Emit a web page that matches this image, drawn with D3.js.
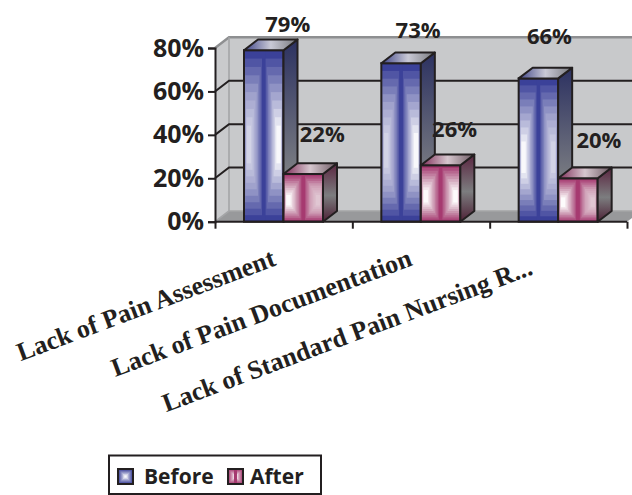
<!DOCTYPE html>
<html><head><meta charset="utf-8">
<script src="https://cdn.jsdelivr.net/npm/d3@7"></script>
<style>html,body{margin:0;padding:0;background:#fff}svg{display:block}</style>
</head><body><svg id="c" width="632" height="495"></svg>
<script>
const categories = ["Lack of Pain Assessment","Lack of Pain Documentation","Lack of Standard Pain Nursing R..."];
const seriesNames = ["Before","After"];
const before = [79,73,66];
const after = [22,26,20];
const yTicks = [0,20,40,60,80];

const ink="#231f20", sans="'Open Sans',sans-serif", serif="'Liberation Serif',serif";
const svg=d3.select("#c");
const defs=svg.append("defs");
const X0=215,X1=627,Y0=221.7,Y80=48, DX=14,DY=-10.7;
const y=d3.scaleLinear().domain([0,80]).range([Y0,Y80]);
const x=d3.scaleBand().domain(categories).range([X0,X1]).paddingInner(0).paddingOuter(0);
const inner=d3.scaleBand().domain(seriesNames).range([29,108]);
const edge=d3.scaleLinear().domain([0,categories.length]).range([X0,X1]);

// walls
const wallR=X1+DX;
svg.append("polygon").attr("points",[[X0,Y0],[X0+DX,Y0+DY],[wallR,Y0+DY],[X1,Y0]].join(" ")).attr("fill","#98999b");
svg.append("polygon").attr("points",[[X0,Y0],[X0+DX,Y0+DY],[X0+DX,Y80+DY],[X0,Y80]].join(" ")).attr("fill","#c9cacc");
svg.append("rect").attr("x",X0+DX).attr("y",Y80+DY).attr("width",wallR-X0-DX).attr("height",Y0-Y80).attr("fill","#c8c9cb");
svg.append("path").attr("d",`M${X0},${Y80}L${X0+DX},${Y80+DY}H${wallR}`).attr("fill","none").attr("stroke","#8e8f91").attr("stroke-width",2.4);
svg.append("path").attr("d",`M${X0+DX},${Y80+DY}V${Y0+DY}L${X0},${Y0}M${X0+DX},${Y0+DY}H${wallR}`).attr("fill","none").attr("stroke","#a4a5a7").attr("stroke-width",1.6);
// gridlines
svg.append("g").selectAll("path").data(yTicks.filter(d=>d>0&&d<80)).join("path")
  .attr("d",d=>`M${X0},${y(d)}L${X0+DX},${y(d)+DY}H${wallR}`)
  .attr("fill","none").attr("stroke",ink).attr("stroke-width",2);

// gradients
const pal={Before:{edge:"#3b4199",mid:"#9a9cc9",core:"#f8f8fb",soft:"#d2d3e6",
   side:["#2c3161","#7d7f83"],top:["#3f4488","#c9c9d6","#77787c"]},
  After:{edge:"#a63a70",mid:"#cf9fb6",core:"#fdfbfc",soft:"#e0c6d2",
   side:["#5a2540","#7c7d7f"],top:["#7f2c58","#d6c6ce","#6d5a63"]}};
seriesNames.forEach(s=>{
  const p=pal[s];
  const side=defs.append("linearGradient").attr("id","side"+s).attr("x1",0).attr("y1",0).attr("x2",0).attr("y2",1);
  side.append("stop").attr("offset",0).attr("stop-color",p.side[0]);
  side.append("stop").attr("offset",s==="After"?.55:.75).attr("stop-color",p.side[1]);
  side.append("stop").attr("offset",1).attr("stop-color",s==="After"?"#4d2136":p.side[1]);
  const top=defs.append("linearGradient").attr("id","top"+s);
  p.top.forEach((c,i)=>top.append("stop").attr("offset",i/2).attr("stop-color",c));
});

const lerp=(a,b,t)=>a+(b-a)*t;
function face(g,s,x0,w,yt,yb,fx,strong){
  const p=pal[s], steps=10;
  const core=strong?p.core:p.soft;
  const col=d3.scaleLinear().domain([0,.5,1]).range([p.edge,p.mid,core]);
  const h=yb-yt, fw=w*.22, fh=h*.22;
  const fX=x0+w*fx-fw/2, fY=yt+h*.55-fh/2;
  d3.range(steps).forEach(i=>{
    const t=i/(steps-1);
    g.append("rect").attr("x",lerp(x0,fX,t)).attr("y",lerp(yt,fY,t))
      .attr("width",lerp(w,fw,t)).attr("height",lerp(h,fh,t)).attr("fill",col(t));
  });
}
// which half of each bar carries the bright highlight, as in the source
const brightHalves={Before:[[0,1],[0,1],[1,0]],After:[[1,0],[1,1],[1,0]]};
function bar(cat,s,v,idx){
  const bx=x(cat)+inner(s), w=inner.bandwidth(), yt=y(v), yb=y(0);
  const g=svg.append("g").attr("class","bar");
  const hw=w/2, stripe=3.5;
  const br=brightHalves[s][idx];
  face(g,s,bx,hw,yt,yb,.25,br[0]);
  face(g,s,bx+hw,hw,yt,yb,.75,br[1]);
  g.append("rect").attr("x",bx+hw-stripe/2).attr("y",yt).attr("width",stripe).attr("height",yb-yt).attr("fill",pal[s].edge);
  g.append("rect").attr("x",bx).attr("y",yt).attr("width",w).attr("height",yb-yt).attr("fill","none").attr("stroke",ink).attr("stroke-width",2);
  g.append("polygon").attr("points",[[bx+w,yt],[bx+w+DX,yt+DY],[bx+w+DX,yb+DY],[bx+w,yb]].join(" "))
    .attr("fill",`url(#side${s})`).attr("stroke",ink).attr("stroke-width",2).attr("stroke-linejoin","round");
  g.append("polygon").attr("points",[[bx,yt],[bx+DX,yt+DY],[bx+w+DX,yt+DY],[bx+w,yt]].join(" "))
    .attr("fill",`url(#top${s})`).attr("stroke",ink).attr("stroke-width",2).attr("stroke-linejoin","round");
}
categories.forEach((c,i)=>{bar(c,"Before",before[i],i);bar(c,"After",after[i],i);});

// axes
const yAxis=d3.axisLeft(y).tickValues(yTicks).tickSize(7).tickFormat(d=>d+"%").tickPadding(4);
const gy=svg.append("g").attr("transform",`translate(${X0},0)`).call(yAxis);
gy.selectAll("text").attr("font-family",sans).attr("font-weight",700).attr("font-size",25).attr("fill",ink);
gy.selectAll("line,path").attr("stroke",ink).attr("stroke-width",2);
const xAxis=d3.axisBottom(edge).tickValues(d3.range(categories.length+1)).tickSize(7).tickFormat("");
const gx=svg.append("g").attr("transform",`translate(0,${Y0})`).call(xAxis);
gx.selectAll("line,path").attr("stroke",ink).attr("stroke-width",2);
gx.select("path").attr("d",`M${X0},0H${X1}`);

// value labels, nudged as in the source chart
const beforeNudge=[[24,-18],[17,-25],[11,-34]];
const afterNudge=[[19,-32],[14,-28],[21,-30]];
function valLabels(vals,s,nudge){
  svg.append("g").selectAll("text").data(vals).join("text")
   .attr("x",(d,i)=>x(categories[i])+inner(s)+inner.bandwidth()/2+nudge[i][0])
   .attr("y",(d,i)=>y(d)+nudge[i][1])
   .attr("text-anchor","middle").attr("font-family",sans).attr("font-weight",700)
   .attr("font-size",22).attr("fill",ink).text(d=>d+"%");
}
valLabels(before,"Before",beforeNudge);
valLabels(after,"After",afterNudge);

// category labels
const catAnchor=[[277,265],[413.5,265],[534,274]];
svg.append("g").selectAll("text").data(categories).join("text")
  .attr("transform",(d,i)=>`translate(${catAnchor[i][0]},${catAnchor[i][1]}) rotate(-20.6)`)
  .attr("text-anchor","end").attr("font-family",serif).attr("font-weight",700)
  .attr("font-size",26).attr("fill",ink).text(d=>d);

// legend
const lg=svg.append("g");
lg.append("rect").attr("x",109).attr("y",455.5).attr("width",212).attr("height",38.5).attr("fill","#fff").attr("stroke",ink).attr("stroke-width",2);
const lx=d3.scaleOrdinal().domain(seriesNames).range([118,228]);
seriesNames.forEach(s=>{
  const sw=lg.append("g");
  const px=lx(s),py=469,sz=15;
  const p=pal[s];
  const col=d3.scaleLinear().domain([0,1]).range([p.edge,p.core]);
  d3.range(6).forEach(i=>{const t=i/6;
    sw.append("rect").attr("x",px+sz/2*t).attr("y",py+sz/2*t).attr("width",sz*(1-t)).attr("height",sz*(1-t)).attr("fill",col(i/5));});
  if(s==="After")sw.append("rect").attr("x",px+sz/2-1.5).attr("y",py).attr("width",3).attr("height",sz).attr("fill",p.edge);
  sw.append("rect").attr("x",px).attr("y",py).attr("width",sz).attr("height",sz).attr("fill","none").attr("stroke",ink).attr("stroke-width",2);
  lg.append("text").attr("x",px+(s==="Before"?26:22)).attr("y",py+15).attr("font-family",sans).attr("font-weight",700)
    .attr("font-size",21).attr("fill",ink).text(s);
});
</script></body></html>
